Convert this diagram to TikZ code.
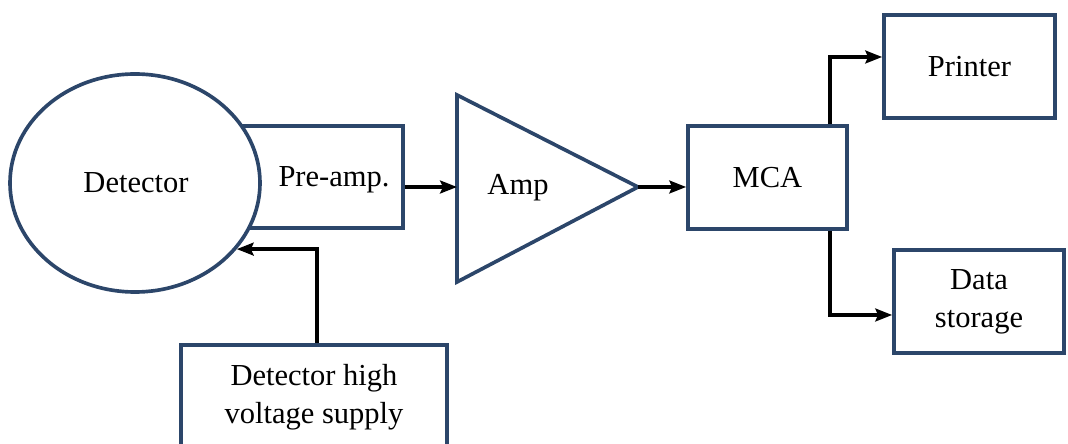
\documentclass[tikz,border=0pt]{standalone}
\usepackage{fontspec}
\setmainfont{Liberation Serif}
\usetikzlibrary{shapes.geometric,arrows.meta,calc}
\definecolor{boxblue}{RGB}{44,70,106}
\tikzset{
	box/.style={draw=boxblue, line width=2.6pt, rectangle, inner sep=0pt},
	lbl/.style={align=center, font=\fontsize{21.7}{27}\selectfont},
	arr/.style={line width=2.4pt, -{Stealth[length=4.2mm,width=3.2mm,inset=0.7mm]}},
	wire/.style={line width=2.4pt}
}
\begin{document}
\begin{tikzpicture}[x=0.025cm, y=-0.025cm]
	\def\px{0.025cm}
	\useasboundingbox (0,0) rectangle (1068,444);
	\clip (0,0) rectangle (1068,444);
	% detector with pre-amp behind it
	\node[box, minimum width=203*\px, minimum height=102*\px] (pre) at (301.5,177) {};
	\node[draw=boxblue, line width=2.6pt, ellipse, fill=white, minimum width=250*\px, minimum height=218*\px] (det) at (135,183) {};
	\node[lbl] (detlbl) at (136,183) {Detector};
	\node[lbl] (prelbl) at (334,180) {Pre-amp.};
	% amplifier
	\draw[draw=boxblue, line width=2.6pt, line join=miter] (457,95) coordinate (ampT) -- (638,187) coordinate (ampR) -- (457,282) coordinate (ampB) -- cycle;
	\coordinate (ampL) at (457,187);
	\node[lbl] (amplbl) at (518,188) {Amp};
	% analyser and outputs
	\node[box, minimum width=159*\px, minimum height=103*\px, lbl] (mca) at (767.5,177.5) {MCA};
	\node[box, minimum width=171*\px, minimum height=103*\px, lbl] (printer) at (969.5,66.5) {Printer};
	\node[box, minimum width=170*\px, minimum height=103*\px, lbl] (store) at (979,301.5) {Data\\storage};
	\node[box, minimum width=266*\px, minimum height=130*\px] (hv) at (314,410) {};
	\node[lbl] (hvlbl) at (314,397) {Detector high\\voltage supply};
	% connections
	\draw[arr] (pre.east |- ampL) -- (ampL);
	\draw[arr] (ampR) -- (mca.west |- ampR);
	\draw[arr] ([xshift=-19*\px]mca.north east) |- ([yshift=9.5*\px]printer.west);
	\draw[arr] ([xshift=-19*\px]mca.south east) |- ([yshift=-13.5*\px]store.west);
	\draw[arr] ([xshift=3*\px]hv.north) |- (det.-33);
\end{tikzpicture}
\end{document}
